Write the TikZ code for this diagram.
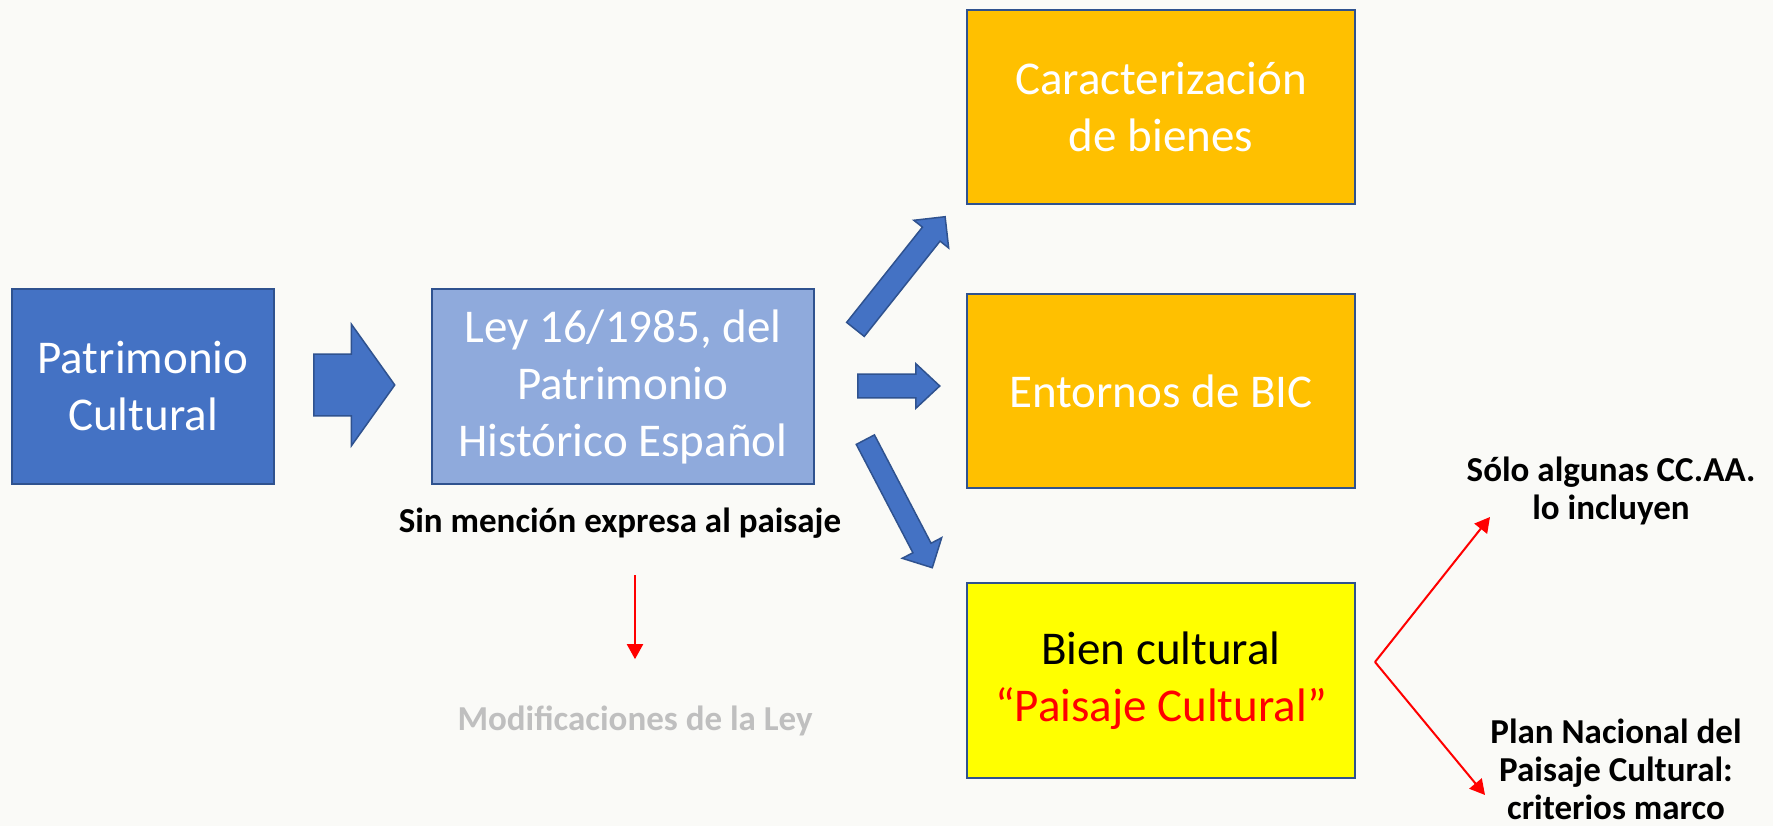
\documentclass[tikz,border=0pt]{standalone}
\usepackage{fontspec}
\setmainfont{Carlito}
\usetikzlibrary{shapes.arrows,arrows.meta}
\definecolor{fondo}{RGB}{250,250,247}
\definecolor{azul}{RGB}{68,114,196}
\definecolor{azulclaro}{RGB}{143,170,220}
\definecolor{borde}{RGB}{47,82,143}
\definecolor{naranja}{RGB}{255,192,0}
\definecolor{amarillo}{RGB}{255,255,0}
\definecolor{gris}{RGB}{191,191,191}
\newcommand{\RJ}[1]{\textcolor{red}{#1}}

\begin{document}
\begin{tikzpicture}[x=1pt, y=-1pt,
  caja/.style={draw=borde, line width=1.8pt, inner sep=0pt, align=center,
    text=white, font=\fontsize{47}{57}\selectfont},
  flecha/.style={single arrow, draw=borde, fill=azul, line width=1.5pt,
    inner xsep=0pt, single arrow head indent=0pt, anchor=tail},
  nota/.style={font=\fontsize{35}{38}\selectfont\bfseries, align=center, inner sep=0pt},
  roja/.style={draw=red, line width=2pt, -{Triangle[width=16pt,length=15pt]}}]

  \path[use as bounding box, fill=fondo] (0,0) rectangle (1773,826);

  % cajas
  \node[caja, fill=azul, minimum width=262pt, minimum height=195pt] (pat) at (143,386.5) {Patrimonio\\Cultural};
  \node[caja, fill=azulclaro, minimum width=382pt, minimum height=195pt] (ley) at (623,386.5) {Ley 16/1985, del\\Patrimonio\\Histórico Español};
  \node[caja, fill=naranja, minimum width=388pt, minimum height=194pt] (car) at (1161,107) {Caracterización\\de bienes};
  \node[caja, fill=naranja, minimum width=388pt, minimum height=194pt] (ent) at (1161,391) {Entornos de BIC};
  \node[caja, fill=amarillo, text=black, minimum width=388pt, minimum height=195pt] (bien) at (1161,680.5) {Bien cultural\\\RJ{“Paisaje Cultural”}};

  % flechas gruesas
  \node[flecha, inner ysep=30pt, single arrow head extend=30pt, minimum height=81pt,
    single arrow tip angle=109] (f1) at (313,385) {}; %% pat->ley
  \node[flecha, inner ysep=10.5pt, single arrow head extend=11pt, minimum height=144pt,
    single arrow tip angle=90, rotate=51.5] (f2) at (855,330) {}; %% ley->car
  \node[flecha, inner ysep=11pt, single arrow head extend=10.5pt, minimum height=82pt,
    single arrow tip angle=86] (f3) at (857,386) {}; %% ley->ent
  \node[flecha, inner ysep=9.5pt, single arrow head extend=12pt, minimum height=144.5pt,
    single arrow tip angle=90, rotate=-62.4] (f4) at (865,439) {}; %% ley->bien

  % textos
  \node[nota, anchor=base] (sin) at (620,532) {Sin mención expresa al paisaje};
  \node[nota, anchor=base, text=gris] (mod) at (635,730) {Modificaciones de la Ley};
  \node[nota] (solo) at (1611,491) {Sólo algunas CC.AA.\\lo incluyen};
  \node[nota, anchor=south] (plan) at (1616,820) {Plan Nacional del\\Paisaje Cultural:\\criterios marco};

  % flechas rojas
  \draw[roja, shorten <=37pt, shorten >=46pt] (sin.south -| mod.north) -- (mod.north); %% sin->mod
  \coordinate (horq) at (1375,662);
  \coordinate (puntaA) at (1490,517);
  \coordinate (puntaB) at (1485,795);
  \draw[roja] (horq) -- (puntaA); %% bien->solo
  \draw[roja] (horq) -- (puntaB); %% bien->plan
\end{tikzpicture}
\end{document}
